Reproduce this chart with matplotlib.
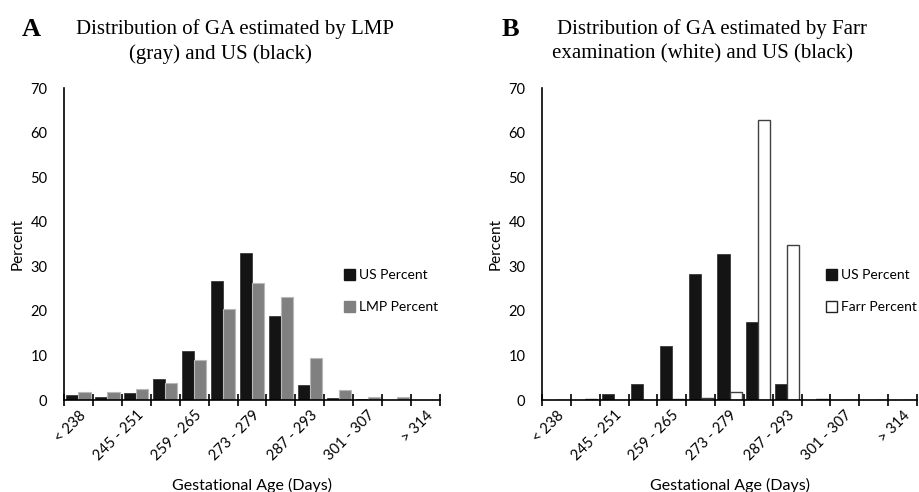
import matplotlib.pyplot as plt
from matplotlib.patches import Patch
import numpy as np

categories = ["< 238", "238 - 244", "245 - 251", "252 - 258", "259 - 265", "266 - 272",
              "273 - 279", "280 - 286", "287 - 293", "294 - 300", "301 - 307", "308 - 314", "> 314"]

us_a = [1.1, 0.7, 1.6, 4.65, 10.9, 26.7, 33.0, 18.8, 3.3, 0.45, 0.3, 0.1, 0.0]
lmp_a = [1.8, 1.7, 2.55, 3.9, 9.0, 20.5, 26.2, 23.2, 9.4, 2.25, 0.7, 0.7, 0.0]

us_b = [0.0, 0.0, 1.4, 3.5, 12.2, 28.35, 32.7, 17.4, 3.6, 0.0, 0.0, 0.0, 0.0]
farr_b = [0.0, 0.2, 0.0, 0.0, 0.2, 0.5, 1.8, 62.8, 34.7, 0.2, 0.0, 0.0, 0.0]

W, H = 919, 492
fig = plt.figure(figsize=(W / 100, H / 100), dpi=100)
plt.rcParams["font.family"] = ["Lato", "DejaVu Sans"]

x = np.arange(len(categories))
bw = 0.42


def setup_axis(ax):
    ax.set_xlim(-0.5, len(categories) - 0.5)
    ax.set_ylim(0, 70)
    ax.set_yticks(range(0, 71, 10))
    ax.tick_params(axis="y", length=0, labelsize=10.5, pad=12)
    ax.set_xticks(x[::2])
    ax.set_xticklabels(categories[::2], rotation=45, ha="right", rotation_mode="anchor", fontsize=10.5)
    ax.tick_params(axis="x", length=0, pad=6)
    # boundary ticks that cross the axis
    ax.set_xticks(np.arange(-0.5, len(categories), 1.0), minor=True)
    ax.tick_params(axis="x", which="minor", direction="inout", length=9, width=1.2)
    for s in ["top", "right"]:
        ax.spines[s].set_visible(False)
    ax.spines["left"].set_linewidth(1.2)
    ax.spines["bottom"].set_linewidth(1.2)
    ax.set_ylabel("Percent", fontsize=11, labelpad=4)
    ax.set_xlabel("Gestational Age (Days)", fontsize=11.5, labelpad=10)


leg_kw = dict(loc="upper left", bbox_transform=fig.transFigure, frameon=False, fontsize=10,
              handlelength=0.8, handleheight=0.8, handletextpad=0.3, labelspacing=1.45,
              borderpad=0, borderaxespad=0)

axA = fig.add_axes([64 / W, 1 - 400 / H, (440 - 64) / W, (400 - 88) / H])
axA.bar(x - bw / 2, us_a, bw, color="#141414", edgecolor="#3a3a3a", linewidth=0.6)
axA.bar(x + bw / 2, lmp_a, bw, color="#808080", edgecolor="#b8b8b8", linewidth=0.8)
setup_axis(axA)
axA.legend(handles=[Patch(facecolor="#141414", edgecolor="#141414", label="US Percent"),
                    Patch(facecolor="#808080", edgecolor="#808080", label="LMP Percent")],
           bbox_to_anchor=(344 / W, 1 - 269 / H), **leg_kw)

axB = fig.add_axes([542 / W, 1 - 400 / H, (917 - 542) / W, (400 - 88) / H])
axB.bar(x - bw / 2, us_b, bw, color="#141414", edgecolor="#3a3a3a", linewidth=0.6)
axB.bar(x + bw / 2, farr_b, bw, color="white", edgecolor="#404040", linewidth=1.0)
setup_axis(axB)
axB.legend(handles=[Patch(facecolor="#141414", edgecolor="#141414", label="US Percent"),
                    Patch(facecolor="white", edgecolor="#222222", label="Farr Percent")],
           bbox_to_anchor=(826 / W, 1 - 269 / H), **leg_kw)

serif = ["Liberation Serif", "DejaVu Serif"]
fig.text(22 / W, 1 - 30 / H, "A", family=serif, fontsize=19, fontweight="bold", va="center")
fig.text(235 / W, 1 - 29 / H, "Distribution of GA estimated by LMP", family=serif, fontsize=15,
         ha="center", va="center")
fig.text(220 / W, 1 - 54 / H, "(gray) and US (black)", family=serif, fontsize=15,
         ha="center", va="center")
fig.text(502 / W, 1 - 30 / H, "B", family=serif, fontsize=19, fontweight="bold", va="center")
fig.text(712 / W, 1 - 29 / H, "Distribution of GA estimated by Farr", family=serif, fontsize=15,
         ha="center", va="center")
fig.text(703 / W, 1 - 54 / H, "examination (white) and US (black)", family=serif, fontsize=15,
         ha="center", va="center")

fig.savefig("out.png", dpi=100)
